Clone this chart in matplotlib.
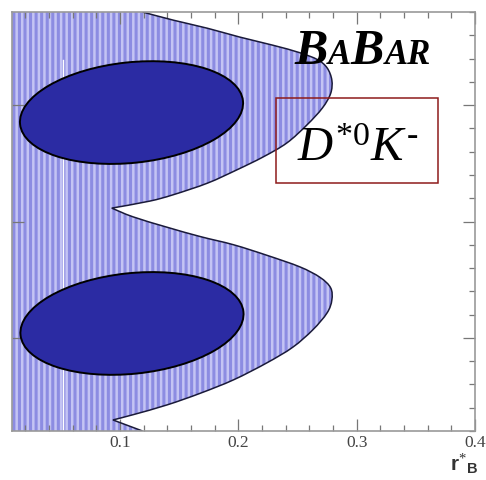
import numpy as np
import matplotlib
matplotlib.use('Agg')
import matplotlib.pyplot as plt
from matplotlib.path import Path
from matplotlib.patches import PathPatch, Rectangle, Ellipse
from matplotlib.transforms import Affine2D
from matplotlib.ticker import MultipleLocator

plt.rcParams['mathtext.fontset'] = 'custom'
plt.rcParams['mathtext.rm'] = 'Liberation Serif'
plt.rcParams['mathtext.it'] = 'Liberation Serif:italic'
plt.rcParams['mathtext.bf'] = 'Liberation Sans:bold'
plt.rcParams['hatch.linewidth'] = 2.2

# outer (95%) contour, right-hand boundary from gamma=+180 down to gamma=-180
outer_r = [0.119, 0.145, 0.174, 0.201, 0.229, 0.252, 0.267, 0.275, 0.279, 0.278,
           0.271, 0.258, 0.241, 0.221, 0.199, 0.174, 0.145, 0.125, 0.093,
           0.111, 0.140, 0.168, 0.196, 0.224, 0.252, 0.269, 0.278, 0.279, 0.275,
           0.263, 0.246, 0.224, 0.196, 0.168, 0.140, 0.111, 0.094, 0.119]
outer_g = [180, 173, 166, 158.5, 151.5, 145, 139, 132, 121.5, 110,
           97.5, 83, 67.5, 55.5, 44.5, 33, 23, 17.5, 11.5,
           4, -5, -13, -20, -29, -39, -48, -57, -67.5, -78.5,
           -93, -108, -121.5, -136, -147.5, -157.5, -166, -170.5, -180]

# inner (68%) contours: centre, half length / half width along the axes (in r units), tilt
ell_r0 = [0.1097, 0.1101]
ell_g0 = [93.6, -87.6]
ell_half_len = [0.0947, 0.0947]
ell_half_wid = [0.0425, 0.0425]
ell_tilt = [6.0, 6.0]

x_ticks = [0.1, 0.2, 0.3, 0.4]
x_labels = ['0.1', '0.2', '0.3', '0.4']


def bezier_pieces(pts):
    # Catmull-Rom spline through the points, written as cubic Bezier segments
    n = len(pts)
    verts, codes = [pts[0]], [Path.MOVETO]
    for i in range(n - 1):
        p0 = pts[i - 1] if i > 0 else pts[i]
        p1, p2 = pts[i], pts[i + 1]
        p3 = pts[i + 2] if i + 2 < n else p2
        verts += [p1 + (p2 - p0) / 6, p2 - (p3 - p1) / 6, p2]
        codes += [Path.CURVE4] * 3
    return verts, codes


def outer_curve(r, g):
    pts = np.column_stack([r, g]).astype(float)
    # keep the cusps sharp: smooth each arc between them separately
    cusps = [i for i in range(1, len(r) - 1) if r[i] < r[i - 1] and r[i] < r[i + 1]]
    edges = [0] + cusps + [len(r) - 1]
    verts, codes = [], []
    for a, b in zip(edges[:-1], edges[1:]):
        v, c = bezier_pieces(pts[a:b + 1])
        if verts:
            v, c = v[1:], c[1:]
        verts += v
        codes += c
    return verts, codes


fig = plt.figure(figsize=(4.86, 4.8), dpi=100)
ax = fig.add_axes([12 / 486, 49 / 480, 463 / 486, 419 / 480])
ax.set_xlim(0.0087, 0.4)
ax.set_ylim(-180, 180)

# light band with vertical striping
v, c = outer_curve(outer_r, outer_g)
band = Path(v + [(0, -180), (0, 180), v[0]], c + [Path.LINETO, Path.LINETO, Path.CLOSEPOLY])
ax.add_patch(PathPatch(band, facecolor='#c4c4f4', edgecolor='#8c8ce2', hatch='|||', lw=0, zorder=1))
ax.add_patch(PathPatch(Path(v, c), facecolor='none', edgecolor='#1a1a3a', lw=1.1, zorder=2))

# white gap in the striping
ax.plot([0.052, 0.052], [-180, 139], color='white', lw=1.0, zorder=2)

# ellipses drawn in a frame where both axes have the same pixel scale
k = (ax.bbox.width / 0.3913) / (ax.bbox.height / 360)
iso = Affine2D().scale(1.0 / k, 1.0) + ax.transData
for r0, g0, a, b, t in zip(ell_r0, ell_g0, ell_half_len, ell_half_wid, ell_tilt):
    ax.add_patch(Ellipse((r0 * k, g0), 2 * a * k, 2 * b * k, angle=t, transform=iso,
                         facecolor='#2b2ba3', edgecolor='black', lw=1.4, zorder=3))

ax.set_xticks(x_ticks)
ax.set_xticklabels(x_labels, fontfamily='Liberation Serif', fontsize=12.5, color='#444444')
ax.xaxis.set_minor_locator(MultipleLocator(0.02))
ax.yaxis.set_major_locator(MultipleLocator(100))
ax.yaxis.set_minor_locator(MultipleLocator(20))
ax.tick_params(which='both', direction='in', top=True, right=True, labelleft=False,
               color='#777777', width=0.9)
ax.tick_params(which='major', length=8.5, pad=3)
ax.tick_params(which='minor', length=4.5)
ax.tick_params(axis='y', which='minor', left=False)
for s in ax.spines.values():
    s.set_color('#999999')
    s.set_linewidth(1.2)

# decay mode label in a framed box
ax.add_patch(Rectangle((0.570, 0.592), 0.350, 0.203, transform=ax.transAxes,
                       fill=False, edgecolor='#8e1b1b', lw=1.1, zorder=5))
ax.text(0.615, 0.645, r'$D^{*\mathit{0}}K^{\text{-}}$', transform=ax.transAxes,
        fontsize=35, va='baseline', ha='left', zorder=6)

# experiment logo, small capitals
fig.canvas.draw()
renderer = fig.canvas.get_renderer()
x = 0.610
for s, size in [('B', 36), ('A', 25), ('B', 36), ('AR', 25)]:
    t = ax.text(x, 0.875, s, transform=ax.transAxes, fontsize=size,
                fontfamily='Liberation Serif', fontweight='bold', fontstyle='italic',
                va='baseline', ha='left', zorder=6)
    x += t.get_window_extent(renderer).width / ax.bbox.width

fig.text(0.983, 0.02, r'$\mathbf{r}^{*}{}_{\mathbf{B}}$', fontsize=15, color='#333333',
         ha='right', va='baseline')

fig.savefig('out.png', dpi=100)
